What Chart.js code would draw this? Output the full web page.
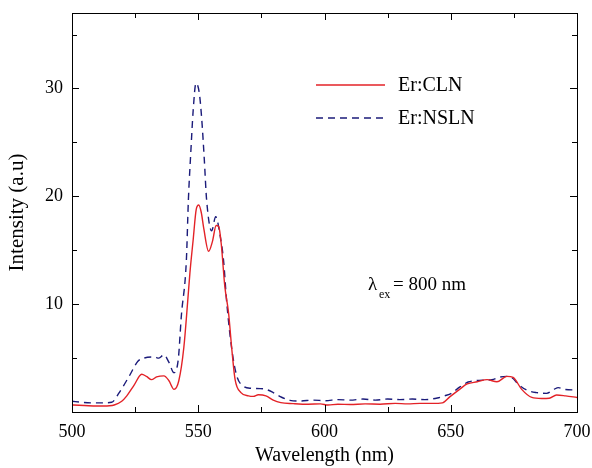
<!DOCTYPE html>
<html><head><meta charset="utf-8">
<script src="https://cdn.jsdelivr.net/npm/chart.js@4"></script>
<style>html,body{margin:0;padding:0;background:#fff}#wrap{width:592px;height:468px}</style>
</head><body><div id="wrap"><canvas id="c" width="592" height="468"></canvas></div>
<script>
const clnWavelength = [500,504.9,509.8,514.8,516.7,519.7,521.7,524.6,527.6,529.5,531.5,533.5,536.4,538.4,540.4,542.3,544.3,545.8,546.7,548.0,549.2,550.2,551.2,552.2,554.1,555.6,557.1,558.1,559.1,560.5,562.0,563.3,564.6,566.9,569.9,571.8,573.8,576.8,579.7,582.7,587.6,593.5,598.4,601.4,605.3,610.2,616.1,622.0,628.0,632.9,637.8,642.7,646.7,649.6,653.5,656.5,660.5,664.4,668.3,672.2,674.7,678.1,682.1,686.0,689.0,691.9,695.5,700];
const clnIntensity = [0.65,0.6,0.55,0.58,0.65,1.0,1.5,2.5,3.5,3.3,3.0,3.25,3.35,2.9,2.1,2.9,6.0,10.2,12.9,16.0,18.8,19.2,18.5,17.0,14.9,15.8,17.3,17.2,15.6,11.7,9.2,5.8,3.0,1.8,1.5,1.45,1.6,1.5,1.1,0.87,0.78,0.72,0.75,0.65,0.72,0.7,0.75,0.72,0.8,0.75,0.8,0.8,0.85,1.4,2.1,2.6,2.8,3.0,2.8,3.3,3.2,2.1,1.35,1.25,1.27,1.58,1.5,1.35];
const nslnWavelength = [500,503.9,507.9,511.8,515.7,518.7,522.6,526.1,528.5,532.5,534.4,536.4,538.4,540.4,542.1,543.3,545.3,546.1,547.1,548.0,549.1,550.4,551.4,552.4,553.3,555.3,556.9,558.7,560.0,561.3,563.3,565.3,567.9,570.9,574.5,576.8,579.7,582.7,586.3,590.5,595.5,600.4,605.3,610.2,615.2,620.1,625.0,629.9,634.8,639.8,644.7,647.6,650.3,653.5,656.9,659.4,662.8,666.3,669.4,672.2,674.2,677.1,680.0,684.0,687.9,690.9,692.6,695.0,700];
const nslnIntensity = [1.0,0.9,0.85,0.85,0.9,1.8,3.3,4.7,5.0,5.1,5.0,5.3,4.6,3.65,4.9,8.9,14.1,19.7,24.3,28.0,30.5,29.6,27.1,23.4,19.7,16.8,18.1,16.3,14.1,10.1,5.8,3.3,2.4,2.2,2.17,2.1,1.8,1.4,1.08,1.02,1.1,1.05,1.15,1.1,1.2,1.1,1.2,1.15,1.2,1.15,1.3,1.5,1.73,2.3,2.78,2.9,2.96,3.0,3.24,3.3,3.18,2.5,2.04,1.8,1.73,2.1,2.26,2.1,2.04];
const xMajorTicks = [500,550,600,650,700];
const xMinorTicks = [525,575,625,675];
const yMajorTicks = [10,20,30];
const yMinorTicks = [5,15,25,35];
const seriesNames = ["Er:CLN","Er:NSLN"];

const RED = '#e32227', NAVY = '#1b1b7a';
const FONT = '"Liberation Serif", "Times New Roman", serif';

const toPts = (xs, ys) => xs.map((x,i)=>({x:x,y:ys[i]}));

const decor = {
  id:'decor',
  afterDraw(chart){
    const ctx = chart.ctx, a = chart.chartArea;
    const xs = chart.scales.x, ys = chart.scales.y;
    ctx.save();
    ctx.strokeStyle = '#000'; ctx.lineWidth = 1;
    ctx.strokeRect(Math.round(a.left)+0.5, Math.round(a.top)+0.5, Math.round(a.right-a.left), Math.round(a.bottom-a.top));
    const tick = (vals, len, axis) => {
      vals.forEach(v=>{
        ctx.beginPath();
        if(axis==='x'){
          const p = Math.round(xs.getPixelForValue(v))+0.5;
          ctx.moveTo(p,a.bottom); ctx.lineTo(p,a.bottom-len);
          ctx.moveTo(p,a.top); ctx.lineTo(p,a.top+len);
        } else {
          const p = Math.round(ys.getPixelForValue(v))+0.5;
          ctx.moveTo(a.left,p); ctx.lineTo(a.left+len,p);
          ctx.moveTo(a.right,p); ctx.lineTo(a.right-len,p);
        }
        ctx.stroke();
      });
    };
    tick(xMajorTicks,7,'x'); tick(xMinorTicks,5,'x');
    tick(yMajorTicks,7,'y'); tick(yMinorTicks,5,'y');

    // legend
    ctx.font = '20px ' + FONT; ctx.fillStyle = '#000'; ctx.textBaseline='middle'; ctx.textAlign='left';
    ctx.lineWidth = 1.3;
    ctx.strokeStyle = RED; ctx.setLineDash([]);
    ctx.beginPath(); ctx.moveTo(316,85); ctx.lineTo(385,85); ctx.stroke();
    ctx.fillText(seriesNames[0], 398, 86);
    ctx.strokeStyle = NAVY; ctx.setLineDash([7,5]);
    ctx.beginPath(); ctx.moveTo(316,118); ctx.lineTo(385,118); ctx.stroke();
    ctx.setLineDash([]);
    ctx.fillText(seriesNames[1], 398, 119);

    // annotation
    ctx.font = '19px ' + FONT;
    ctx.fillText('\u03bb', 368, 285);
    ctx.font = '12px ' + FONT;
    ctx.fillText('ex', 379, 295);
    ctx.font = '19px ' + FONT;
    ctx.fillText('= 800 nm', 393, 285);
    ctx.restore();
  }
};

new Chart(document.getElementById('c'), {
  type:'line',
  data:{datasets:[
    {label:seriesNames[0], data:toPts(clnWavelength,clnIntensity), borderColor:RED, borderWidth:1.4, pointRadius:0, cubicInterpolationMode:'monotone', fill:false},
    {label:seriesNames[1], data:toPts(nslnWavelength,nslnIntensity), borderColor:NAVY, borderWidth:1.4, borderDash:[7,5], pointRadius:0, cubicInterpolationMode:'monotone', fill:false}
  ]},
  options:{
    responsive:false, animation:false,
    layout:{padding:{left:0,top:13,right:15,bottom:0}},
    plugins:{legend:{display:false}, tooltip:{enabled:false}},
    scales:{
      x:{type:'linear', min:500, max:700,
        afterBuildTicks(s){ s.ticks = xMajorTicks.map(v=>({value:v})); },
        afterFit(s){ s.height = 56; s.paddingLeft = 0; s.paddingRight = 0; },
        grid:{display:false, drawTicks:false},
        border:{display:false},
        ticks:{color:'#000', font:{family:FONT,size:18}, padding:9, maxRotation:0},
        title:{display:true, text:'Wavelength (nm)', color:'#000', font:{family:FONT,size:20}, padding:{top:4,bottom:0}}
      },
      y:{type:'linear', min:0, max:37,
        afterBuildTicks(s){ s.ticks = yMajorTicks.map(v=>({value:v})); },
        afterFit(s){ s.width = 72; s.paddingTop = 0; s.paddingBottom = 0; },
        grid:{display:false, drawTicks:false},
        border:{display:false},
        ticks:{color:'#000', font:{family:FONT,size:18}, padding:9},
        title:{display:true, text:'Intensity (a.u)', color:'#000', font:{family:FONT,size:21}, padding:{top:5,bottom:4}}
      }
    }
  },
  plugins:[decor]
});
</script></body></html>
